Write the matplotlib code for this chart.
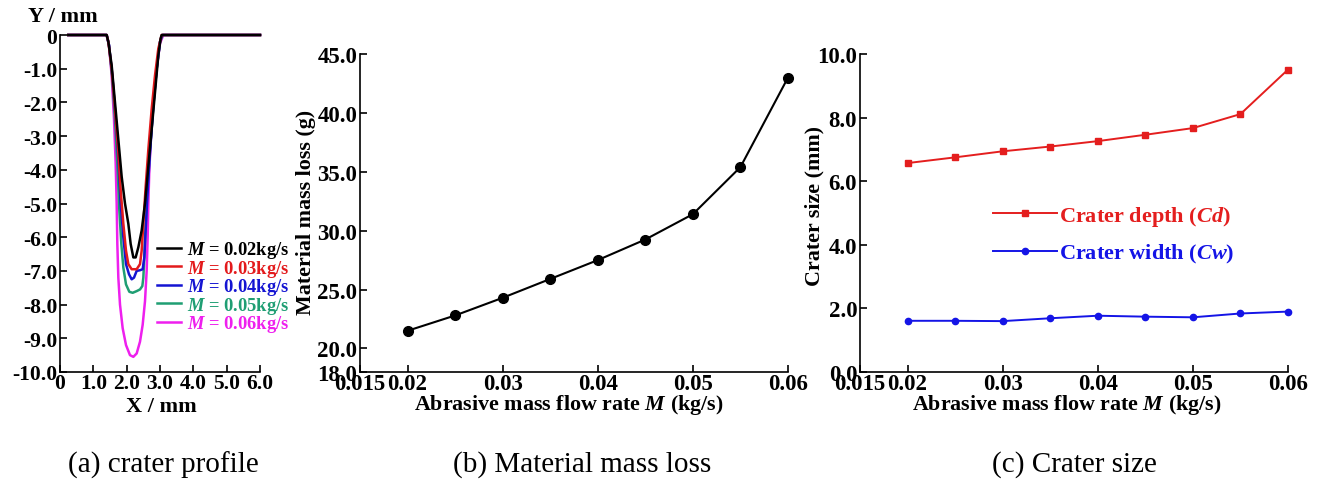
import matplotlib
matplotlib.use("Agg")
import matplotlib.pyplot as plt
from matplotlib.lines import Line2D

plt.rcParams.update({
    "font.family": ["Liberation Serif", "DejaVu Serif"],
    "font.weight": "bold",
    "mathtext.fontset": "custom",
    "mathtext.rm": "Liberation Serif:bold",
    "mathtext.it": "Liberation Serif:italic:bold",
    "mathtext.bf": "Liberation Serif:bold",
    "axes.unicode_minus": False,
    "axes.linewidth": 1.2,
})

# ---- (a) crater profiles, X / mm vs Y / mm ----
profile_labels = ["0.02", "0.03", "0.04", "0.05", "0.06"]
profile_colors = ["#000000", "#e31a1c", "#1414d2", "#1f9e73", "#ee1fee"]

x_m002 = [0.25, 1.40, 1.45, 1.55, 1.65, 1.75, 1.85, 1.95, 2.05, 2.12, 2.20, 2.27, 2.35,
          2.45, 2.55, 2.65, 2.75, 2.85, 2.95, 3.02, 3.05, 6.0]
y_m002 = [0, 0, -0.2, -0.9, -2.0, -3.1, -4.2, -5.0, -5.6, -6.2, -6.6, -6.6, -6.3,
          -5.8, -5.0, -3.9, -2.8, -1.7, -0.6, -0.1, 0, 0]

x_m003 = [0.25, 1.40, 1.45, 1.55, 1.65, 1.75, 1.82, 1.90, 1.98, 2.05, 2.15, 2.30, 2.40,
          2.45, 2.50, 2.57, 2.65, 2.75, 2.85, 2.95, 3.05, 6.0]
y_m003 = [0, 0, -0.2, -1.0, -2.2, -3.5, -4.6, -5.6, -6.4, -6.8, -6.95, -6.95, -6.8,
          -6.4, -5.6, -4.5, -3.4, -2.2, -1.2, -0.4, 0, 0]

x_m004 = [0.25, 1.40, 1.47, 1.57, 1.67, 1.75, 1.82, 1.90, 1.98, 2.07, 2.15, 2.22, 2.30,
          2.40, 2.48, 2.53, 2.57, 2.62, 2.70, 2.80, 2.90, 3.00, 3.07, 6.0]
y_m004 = [0, 0, -0.3, -1.2, -2.5, -3.7, -5.0, -6.0, -6.8, -7.1, -7.25, -7.2, -7.0,
          -6.98, -6.95, -6.6, -5.8, -4.8, -3.5, -2.1, -1.0, -0.2, 0, 0]

x_m005 = [0.25, 1.40, 1.47, 1.57, 1.66, 1.73, 1.78, 1.84, 1.90, 1.98, 2.08, 2.18, 2.30,
          2.40, 2.47, 2.50, 2.53, 2.57, 2.62, 2.70, 2.80, 2.90, 3.00, 3.08, 6.0]
y_m005 = [0, 0, -0.3, -1.3, -2.7, -4.0, -5.2, -6.2, -6.9, -7.4, -7.62, -7.65, -7.6,
          -7.55, -7.45, -7.2, -6.6, -5.6, -4.6, -3.4, -2.1, -1.0, -0.2, 0, 0]

x_m006 = [0.25, 1.40, 1.47, 1.55, 1.62, 1.67, 1.70, 1.72, 1.75, 1.80, 1.88, 1.98, 2.10,
          2.20, 2.30, 2.40, 2.48, 2.55, 2.60, 2.63, 2.65, 2.68, 2.73, 2.80, 2.90, 3.00,
          3.10, 6.0]
y_m006 = [0, 0, -0.3, -1.2, -2.5, -3.8, -5.0, -6.2, -7.2, -8.0, -8.7, -9.2, -9.5,
          -9.55, -9.45, -9.1, -8.6, -7.9, -7.0, -6.0, -5.0, -4.0, -3.0, -2.0, -1.0, -0.25,
          0, 0]

profiles_x = [x_m002, x_m003, x_m004, x_m005, x_m006]
profiles_y = [y_m002, y_m003, y_m004, y_m005, y_m006]

# ---- (b) material mass loss and (c) crater size vs abrasive flow rate ----
flow_rate = [0.02, 0.025, 0.03, 0.035, 0.04, 0.045, 0.05, 0.055, 0.06]
mass_loss = [21.5, 22.8, 24.3, 25.9, 27.5, 29.25, 31.4, 35.4, 43.0]
crater_depth = [6.57, 6.75, 6.94, 7.09, 7.26, 7.46, 7.67, 8.11, 9.51]
crater_width = [1.61, 1.61, 1.60, 1.69, 1.77, 1.74, 1.72, 1.84, 1.90]

flow_ticks = [0.015, 0.02, 0.03, 0.04, 0.05, 0.06]
flow_ticklabels = ["0.015", "0.02", "0.03", "0.04", "0.05", "0.06"]
mass_ticks = [18.0, 20.0, 25.0, 30.0, 35.0, 40.0, 45.0]
size_ticks = [0.0, 2.0, 4.0, 6.0, 8.0, 10.0]
x_prof_ticks = [0, 1.0, 2.0, 3.0, 4.0, 5.0, 6.0]
y_prof_ticks = [0, -1.0, -2.0, -3.0, -4.0, -5.0, -6.0, -7.0, -8.0, -9.0, -10.0]

W, H = 1324, 481
fig = plt.figure(figsize=(W / 100, H / 100), dpi=100)

TICK_SIZE = 16.5
LABEL_SIZE = 15.8


def px_axes(left, top, right, bottom):
    return fig.add_axes([left / W, (H - bottom) / H, (right - left) / W, (bottom - top) / H])


def style(ax, size=TICK_SIZE):
    for s in ("top", "right"):
        ax.spines[s].set_visible(False)
    ax.tick_params(direction="in", length=5, width=1.2, labelsize=size, pad=2)
    ax.tick_params(axis="x", pad=0.5)
    for lab in ax.get_xticklabels() + ax.get_yticklabels():
        lab.set_fontweight("bold")


def place_labels(ax, xlab, ylab, x_center, y_center, ylab_x, xlab_y):
    ax.set_xlabel(xlab, fontsize=LABEL_SIZE, fontweight="bold")
    ax.set_ylabel(ylab, fontsize=LABEL_SIZE, fontweight="bold")
    ax.xaxis.set_label_coords(x_center, xlab_y)
    ax.xaxis.label.set_verticalalignment("center")
    ax.yaxis.set_label_coords(ylab_x, y_center)
    ax.yaxis.label.set_verticalalignment("center")


# (a)
ax1 = px_axes(60, 36, 260, 373)
for i in reversed(range(5)):
    ax1.plot(profiles_x[i], profiles_y[i], color=profile_colors[i], lw=1.8,
             clip_on=False, zorder=3 + (5 - i))
ax1.set_xlim(0, 6)
ax1.set_ylim(-10, 0)
ax1.set_xticks(x_prof_ticks)
ax1.set_xticklabels(["0" if v == 0 else f"{v:.1f}" for v in x_prof_ticks])
ax1.set_yticks(y_prof_ticks)
ax1.set_yticklabels(["0" if v == 0 else f"{v:.1f}" for v in y_prof_ticks])
style(ax1, 15.5)
handles = [Line2D([], [], color=c, lw=1.8) for c in profile_colors]
leg1 = ax1.legend(handles, [f"$M$ = {m}kg/s" for m in profile_labels],
                  loc="upper left", bbox_to_anchor=(97 / 200, 1 - 204 / 337), frameon=False,
                  fontsize=13.3, handlelength=1.3, handletextpad=0.35,
                  labelspacing=-0.13, borderaxespad=0, borderpad=0)
for t, c in zip(leg1.get_texts(), profile_colors):
    t.set_color(c)
fig.text(28 / W, 1 - 17 / H, "Y / mm", fontsize=16, fontweight="bold",
         ha="left", va="center")
fig.text(161 / W, 1 - 407 / H, "X / mm", fontsize=16, fontweight="bold",
         ha="center", va="center")

# (b)
ax2 = px_axes(360, 55, 788, 373)
ax2.plot(flow_rate, mass_loss, color="black", lw=1.5, marker="o", ms=7,
         clip_on=False, zorder=3)
ax2.set_xlim(0.015, 0.06)
ax2.set_ylim(18, 45)
ax2.set_xticks(flow_ticks)
ax2.set_xticklabels(flow_ticklabels)
ax2.set_yticks(mass_ticks)
ax2.set_yticklabels([f"{v:.1f}" for v in mass_ticks])
style(ax2)
place_labels(ax2, "Abrasive mass flow rate $M$ (kg/s)", "Material mass loss (g)",
             (569 - 360) / 428, (373 - 212) / 318, (306 - 360) / 428, (373 - 405) / 318)

# (c)
ax3 = px_axes(860, 55, 1288, 373)
ax3.plot(flow_rate, crater_depth, color="#e41e1e", lw=1.4, marker="s", ms=4.5,
         clip_on=False, zorder=3, label="Crater depth ($Cd$)")
ax3.plot(flow_rate, crater_width, color="#1414e6", lw=1.4, marker="o", ms=4.5,
         clip_on=False, zorder=3, label="Crater width ($Cw$)")
ax3.set_xlim(0.015, 0.06)
ax3.set_ylim(0, 10)
ax3.set_xticks(flow_ticks)
ax3.set_xticklabels(flow_ticklabels)
ax3.set_yticks(size_ticks)
ax3.set_yticklabels([f"{v:.1f}" for v in size_ticks])
style(ax3)
place_labels(ax3, "Abrasive mass flow rate $M$ (kg/s)", "Crater size (mm)",
             (1067 - 860) / 428, (373 - 206) / 318, (814 - 860) / 428, (373 - 405) / 318)
leg3 = ax3.legend(loc="upper left", bbox_to_anchor=(133 / 428, 1 - 150 / 318), frameon=False,
                  fontsize=16, handlelength=2.9, handletextpad=0.05,
                  labelspacing=0.62, borderaxespad=0, borderpad=0)
for t, l in zip(leg3.get_texts(), leg3.get_lines()):
    t.set_color(l.get_color())

# captions
cap_kw = dict(fontsize=21, fontweight="normal", ha="center", va="center")
fig.text(163 / W, 1 - 465 / H, "(a) crater profile", **cap_kw)
fig.text(582 / W, 1 - 465 / H, "(b) Material mass loss", **cap_kw)
fig.text(1074 / W, 1 - 465 / H, "(c) Crater size", **cap_kw)

fig.savefig("out.png", dpi=100, facecolor="white")
